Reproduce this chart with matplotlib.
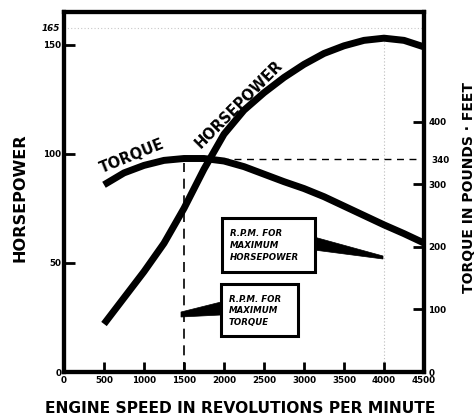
import matplotlib
matplotlib.use("Agg")
import matplotlib.pyplot as plt
from matplotlib.patches import Rectangle, Polygon

# ---------------- data ----------------
rpm = [500, 750, 1000, 1250, 1500, 1750, 2000, 2250, 2500, 2750, 3000,
       3250, 3500, 3750, 4000, 4250, 4500]
horsepower = [22, 34, 46, 59, 75, 93, 109, 120, 128, 135, 141,
              146, 149.5, 152, 153, 152, 149]
torque = [299, 318, 330, 338, 341, 341, 337, 328, 316, 304, 293,
          280, 265, 250, 235, 221, 206]

x_ticks = [0, 500, 1000, 1500, 2000, 2500, 3000, 3500, 4000, 4500]
hp_ticks = [0, 50, 100, 150]
tq_ticks = [0, 100, 200, 300, 400]
max_torque = 340
rpm_max_torque = 1500
rpm_max_hp = 4000

# ---------------- figure ----------------
W, H = 477, 419
fig = plt.figure(figsize=(W / 100, H / 100), dpi=100)
L, R, T, B = 64, 424, 12, 372
ax = fig.add_axes([L / W, (H - B) / H, (R - L) / W, (B - T) / H])
ax2 = ax.twinx()

ax.set_xlim(0, 4500)
ax.set_ylim(0, 165)
ax2.set_ylim(0, 575)

for a in (ax, ax2):
    for s in a.spines.values():
        s.set_linewidth(3.0)
        s.set_color("black")
    a.patch.set_visible(False)

tick_font = dict(family="DejaVu Sans", weight="bold", size=6.3)

ax.set_xticks(x_ticks)
ax.set_xticklabels([str(v) for v in x_ticks], **tick_font)
ax.set_yticks(hp_ticks)
ax.set_yticklabels([str(v) for v in hp_ticks], **tick_font)
ax.tick_params(axis="x", direction="in", length=7, width=2, pad=3)
ax.tick_params(axis="y", direction="in", length=8, width=2, pad=2)
ax.tick_params(axis="y", which="both", right=False)

ax2.set_yticks(tq_ticks)
ax2.set_yticklabels([str(v) for v in tq_ticks], **tick_font)
ax2.set_yticks([max_torque], minor=True)
ax2.set_yticklabels([str(max_torque)], minor=True, **tick_font)
ax2.tick_params(axis="y", which="major", direction="in", length=8, width=2, pad=3)
ax2.tick_params(axis="y", which="minor", direction="in", length=0, pad=5)

# "165" at the top of the horsepower scale
ax.text(-0.012, 0.953, "165", transform=ax.transAxes, ha="right", va="center",
        fontstyle="italic", **tick_font)
ax.axhline(157.5, color="#c8c8c8", lw=0.8, ls=(0, (1, 2)), zorder=0)

# reference lines
ax2.plot([rpm_max_torque, 4500], [max_torque, max_torque], color="black",
         lw=1.0, ls=(0, (5, 4)), zorder=1)
ax.plot([rpm_max_torque, rpm_max_torque], [0, 96], color="black",
        lw=1.2, ls=(0, (6, 4)), zorder=1)
ax.plot([rpm_max_hp, rpm_max_hp], [0, 153], color="#bdbdbd",
        lw=0.8, ls=(0, (1, 2)), zorder=0)

# curves
ax2.plot(rpm, torque, color="black", lw=5, solid_capstyle="butt",
         solid_joinstyle="round", zorder=3)
ax.plot(rpm, horsepower, color="black", lw=5, solid_capstyle="butt",
        solid_joinstyle="round", zorder=3)

# curve labels
lab_font = dict(family="DejaVu Sans", weight="bold", size=10.5)
fig.text(132 / W, 1 - 156 / H, "TORQUE", rotation=22, ha="center", va="center",
         **lab_font)
fig.text(239 / W, 1 - 104 / H, "HORSEPOWER", rotation=45, ha="center",
         va="center", **lab_font)

# axis labels
fig.text(20 / W, 1 - 198 / H, "HORSEPOWER", rotation=90, ha="center",
         va="center", family="DejaVu Sans", weight="bold", size=11.6)
fig.text(469 / W, 1 - 187 / H, "TORQUE IN POUNDS · FEET", rotation=90,
         ha="center", va="center", family="DejaVu Sans", weight="bold", size=10)
fig.text(240 / W, 1 - 408 / H, "ENGINE SPEED IN REVOLUTIONS PER MINUTE",
         ha="center", va="center", family="DejaVu Sans", weight="bold", size=11.2)


# callout boxes (pixel geometry -> axes fraction)
def ax_xy(px, py):
    return ((px - L) / (R - L), (B - py) / (B - T))


def box(x0, y0, x1, y1, lines, text_x, text_y0, dy):
    (ax0, ay1) = ax_xy(x0, y0)
    (ax1_, ay0) = ax_xy(x1, y1)
    ax.add_patch(Rectangle((ax0, ay0), ax1_ - ax0, ay1 - ay0,
                           transform=ax.transAxes, facecolor="white",
                           edgecolor="black", lw=2.2, zorder=5))
    for i, s in enumerate(lines):
        tx, ty = ax_xy(text_x, text_y0 + i * dy)
        ax.text(tx, ty, s, transform=ax.transAxes, ha="left", va="center",
                family="DejaVu Sans", weight="bold", style="italic",
                size=6.2, zorder=6)


def wedge(pts):
    ax.add_patch(Polygon([ax_xy(*p) for p in pts], closed=True,
                         transform=ax.transAxes, facecolor="black",
                         edgecolor="black", lw=0.5, zorder=4))


wedge([(314, 237), (383, 256), (383, 259), (314, 250)])
box(222, 218, 315, 272, ["R.P.M. FOR", "MAXIMUM", "HORSEPOWER"], 230, 233, 12.5)

wedge([(181, 312), (221, 302), (221, 315), (181, 317)])
box(221, 284, 298, 336, ["R.P.M. FOR", "MAXIMUM", "TORQUE"], 229, 299, 11.5)

fig.savefig("out.png", dpi=100, facecolor="white")
